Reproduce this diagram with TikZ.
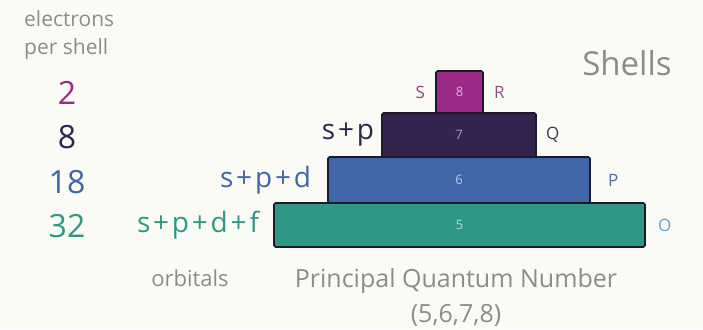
\documentclass[tikz,border=0pt]{standalone}
\usepackage{fontspec}
\setmainfont{Open Sans}
\usetikzlibrary{positioning}
\definecolor{paper}{HTML}{FBFBF6}
\definecolor{capt}{HTML}{8C8C8C}
\definecolor{cEight}{HTML}{9A2A86}
\definecolor{cSeven}{HTML}{33244F}
\definecolor{cSix}{HTML}{3F66A6}
\definecolor{cFive}{HTML}{2F9884}
\definecolor{edge}{HTML}{1C1A2A}
\definecolor{cOut}{HTML}{5AA6D6}
\tikzset{
  shellbox/.style={draw=edge,line width=1.6pt,rounded corners=1.5pt,
    inner sep=0pt,font=\fontsize{13}{13}\selectfont},
  count/.style={font=\fontsize{32}{32}\selectfont,anchor=center},
  orb/.style={font=\fontsize{28}{28}\selectfont\addfontfeature{LetterSpace=10},inner sep=0pt},
  letter/.style={font=\fontsize{17}{17}\selectfont,inner sep=0pt},
  capt/.style={text=capt,inner sep=0pt}}
\begin{document}
\begin{tikzpicture}[x=1pt,y=-1pt]
  \fill[paper] (0,0) rectangle (703,329);
  \useasboundingbox (0,0) rectangle (703,329);
  % the shells, bottom to top
  \node[shellbox,fill=cFive,minimum width=371pt,minimum height=44pt,text=cFive!35!white]
    (sh5) at (459.5,225) {5};
  \node[shellbox,fill=cSix,minimum width=262pt,minimum height=46pt,text=cSix!35!white]
    (sh6) at (459,180) {6};
  \node[shellbox,fill=cSeven,minimum width=154pt,minimum height=44pt,text=cSeven!45!white]
    (sh7) at (459,135) {7};
  \node[shellbox,fill=cEight,minimum width=47pt,minimum height=42pt,text=cEight!35!white]
    (sh8) at (459.5,92) {8};
  % shell letters
  \node[letter,text=cEight!80!gray,left=10pt of sh8] (ls) {S};
  \node[letter,text=cEight!50!gray,right=10pt of sh8] (lr) {R};
  \node[letter,text=cSeven!80!gray,right=9pt of sh7] (lq) {Q};
  \node[letter,text=cSix!70!gray,right=17pt of sh6] (lp) {P};
  \node[letter,text=cOut,right=12pt of sh5] (lo) {O};
  % orbitals
  \node[orb,text=cSeven,left=7pt of sh7] (o7) {s+p};
  \node[orb,text=cSix,left=16pt of sh6] (o6) {s+p+d};
  \node[orb,text=cFive,left=14pt of sh5] (o5) {s+p+d+f};
  % electrons per shell
  \node[count,text=cEight] (n8) at (67,93) {2};
  \node[count,text=cSeven] (n7) at (67,137) {8};
  \node[count,text=cSix] (n6) at (67,182) {18};
  \node[count,text=cFive] (n5) at (67,226) {32};
  \node[capt,anchor=west,font=\fontsize{21}{21}\selectfont,align=left] (eps) at (24,35)
    {electrons\\[7pt]per shell};
  \node[capt,font=\fontsize{33}{33}\selectfont] (ttl) at (627,63) {Shells};
  \node[capt,font=\fontsize{22}{22}\selectfont] (orbs) at (190,278) {orbitals};
  \node[capt,font=\fontsize{25}{25}\selectfont,align=center] (pqn) at (456,297)
    {Principal Quantum Number\\[10pt](5,6,7,8)};
\end{tikzpicture}
\end{document}
